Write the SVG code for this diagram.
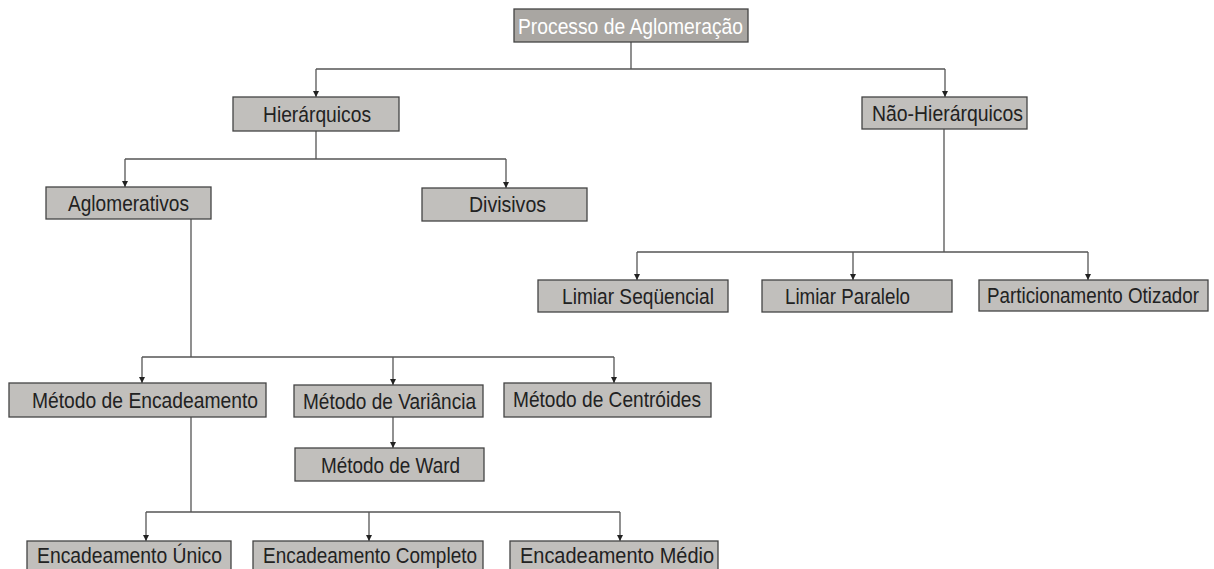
<svg xmlns="http://www.w3.org/2000/svg" width="1214" height="569" viewBox="0 0 1214 569">
<style>
.box{fill:#c1bfbc;stroke:#444;stroke-width:1.3}
.top{fill:#a9a6a2;stroke:#444;stroke-width:1.3}
.t{font-family:"Liberation Sans",Arial,sans-serif;font-size:21.5px;fill:#222}
.tw{font-family:"Liberation Sans",Arial,sans-serif;font-size:21.5px;fill:#fff}
.c{fill:none;stroke:#555;stroke-width:1.3}
</style>
<defs>
<marker id="ah" viewBox="0 0 10 10" refX="10" refY="5" markerWidth="7" markerHeight="6" markerUnits="userSpaceOnUse" orient="auto">
<path d="M0,0 L10,5 L0,10 z" fill="#222"/>
</marker>
</defs>
<rect width="1214" height="569" fill="#fff"/>
<g id="connectors">
<path class="c" d="M631,42 V69 M316,69 H945"/>
<path class="c" d="M316,69 V97" marker-end="url(#ah)"/>
<path class="c" d="M945,69 V97" marker-end="url(#ah)"/>
<path class="c" d="M316,131 V159 M125,159 H506"/>
<path class="c" d="M125,159 V187" marker-end="url(#ah)"/>
<path class="c" d="M506,159 V188" marker-end="url(#ah)"/>
<path class="c" d="M191,219 V357 M142,357 H614"/>
<path class="c" d="M142,357 V383" marker-end="url(#ah)"/>
<path class="c" d="M393,357 V385" marker-end="url(#ah)"/>
<path class="c" d="M614,357 V383" marker-end="url(#ah)"/>
<path class="c" d="M393,417 V448" marker-end="url(#ah)"/>
<path class="c" d="M191,417 V512 M146,512 H620"/>
<path class="c" d="M146,512 V541" marker-end="url(#ah)"/>
<path class="c" d="M369,512 V541" marker-end="url(#ah)"/>
<path class="c" d="M620,512 V541" marker-end="url(#ah)"/>
<path class="c" d="M944,129 V252 M637,252 H1088"/>
<path class="c" d="M637,252 V280" marker-end="url(#ah)"/>
<path class="c" d="M853,252 V280" marker-end="url(#ah)"/>
<path class="c" d="M1088,252 V280" marker-end="url(#ah)"/>
</g>
<g id="n-processo"><rect class="top" x="514" y="9" width="234" height="33"/><text class="tw" x="518" y="33.5" textLength="225" lengthAdjust="spacingAndGlyphs">Processo de Aglomeração</text></g>
<g id="n-hier"><rect class="box" x="233" y="97" width="166" height="34"/><text class="t" x="263" y="121.5" textLength="108" lengthAdjust="spacingAndGlyphs">Hierárquicos</text></g>
<g id="n-naohier"><rect class="box" x="862" y="97" width="165" height="32"/><text class="t" x="872" y="120.5" textLength="151" lengthAdjust="spacingAndGlyphs">Não-Hierárquicos</text></g>
<g id="n-aglom"><rect class="box" x="46" y="187" width="165" height="32"/><text class="t" x="68" y="210.5" textLength="121" lengthAdjust="spacingAndGlyphs">Aglomerativos</text></g>
<g id="n-divis"><rect class="box" x="422" y="188" width="165" height="33"/><text class="t" x="469" y="212" textLength="77" lengthAdjust="spacingAndGlyphs">Divisivos</text></g>
<g id="n-limseq"><rect class="box" x="538" y="280" width="190" height="32"/><text class="t" x="562" y="303.5" textLength="152" lengthAdjust="spacingAndGlyphs">Limiar Seqüencial</text></g>
<g id="n-limpar"><rect class="box" x="762" y="280" width="190" height="32"/><text class="t" x="785" y="304" textLength="125" lengthAdjust="spacingAndGlyphs">Limiar Paralelo</text></g>
<g id="n-partic"><rect class="box" x="979" y="280" width="229" height="31"/><text class="t" x="987" y="302.5" font-size="19.5" textLength="212" lengthAdjust="spacingAndGlyphs">Particionamento Otizador</text></g>
<g id="n-encad"><rect class="box" x="9" y="383" width="257" height="34"/><text class="t" x="32" y="407.5" textLength="226" lengthAdjust="spacingAndGlyphs">Método de Encadeamento</text></g>
<g id="n-varian"><rect class="box" x="294" y="385" width="189" height="32"/><text class="t" x="303" y="408.5" textLength="173" lengthAdjust="spacingAndGlyphs">Método de Variância</text></g>
<g id="n-centr"><rect class="box" x="504" y="383" width="207" height="34"/><text class="t" x="513" y="406.5" textLength="188" lengthAdjust="spacingAndGlyphs">Método de Centróides</text></g>
<g id="n-ward"><rect class="box" x="295" y="448" width="189" height="33"/><text class="t" x="321" y="472.5" textLength="139" lengthAdjust="spacingAndGlyphs">Método de Ward</text></g>
<g id="n-unico"><rect class="box" x="27" y="541" width="204" height="34"/><text class="t" x="37" y="563" textLength="185" lengthAdjust="spacingAndGlyphs">Encadeamento Único</text></g>
<g id="n-compl"><rect class="box" x="253" y="541" width="230" height="34"/><text class="t" x="263" y="563" textLength="214" lengthAdjust="spacingAndGlyphs">Encadeamento Completo</text></g>
<g id="n-medio"><rect class="box" x="510" y="541" width="208" height="34"/><text class="t" x="520" y="563" textLength="194" lengthAdjust="spacingAndGlyphs">Encadeamento Médio</text></g>
</svg>
